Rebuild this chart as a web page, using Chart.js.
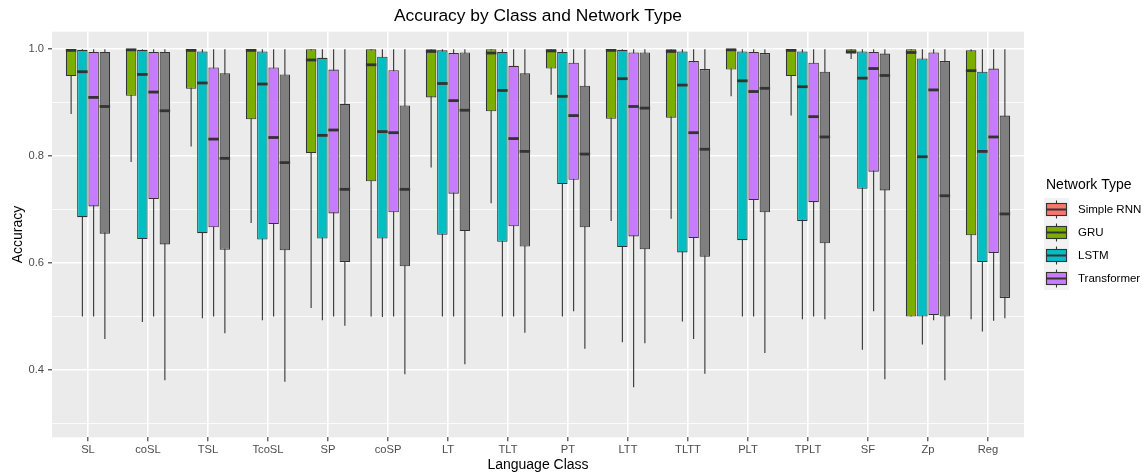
<!DOCTYPE html>
<html>
<head>
<meta charset="utf-8">
<script src="https://cdn.jsdelivr.net/npm/chart.js@4.4.1/dist/chart.umd.min.js"></script>
<style>
  body { margin: 0; background: #fff; }
  #wrap { width: 1144px; height: 474px; }
</style>
</head>
<body>
<div id="wrap"><canvas id="myChart"></canvas></div>
<script>
var categories = ["SL", "coSL", "TSL", "TcoSL", "SP", "coSP", "LT", "TLT", "PT", "LTT", "TLTT", "PLT", "TPLT", "SF", "Zp", "Reg"];
var legendNames = ["Simple RNN", "GRU", "LSTM", "Transformer"];
var legendColors = ["#F8766D", "#7CAE00", "#00BFC4", "#C77CFF"];
var yTicks = [0.3, 0.4, 0.5, 0.6, 0.7, 0.8, 0.9, 1.0];

// each row: [min, lower hinge, median, upper hinge, max]
var gru = [
  [0.879, 0.950, 0.998, 1.0, 1.0],
  [0.789, 0.913, 0.999, 1.0, 1.0],
  [0.818, 0.926, 0.998, 1.0, 1.0],
  [0.675, 0.869, 0.998, 1.0, 1.0],
  [0.516, 0.806, 0.980, 1.0, 1.0],
  [0.500, 0.753, 0.971, 1.0, 1.0],
  [0.779, 0.910, 0.996, 1.0, 1.0],
  [0.712, 0.884, 0.993, 1.0, 1.0],
  [0.915, 0.964, 0.997, 1.0, 1.0],
  [0.679, 0.870, 0.998, 1.0, 1.0],
  [0.683, 0.872, 0.996, 1.0, 1.0],
  [0.912, 0.962, 0.999, 1.0, 1.0],
  [0.876, 0.950, 0.998, 1.0, 1.0],
  [0.982, 0.992, 0.995, 1.0, 1.0],
  [0.500, 0.500, 0.994, 1.0, 1.0],
  [0.495, 0.652, 0.960, 0.998, 1.0]
];
var lstm = [
  [0.500, 0.686, 0.958, 0.999, 1.0],
  [0.490, 0.645, 0.953, 0.999, 1.0],
  [0.497, 0.656, 0.937, 0.996, 1.0],
  [0.493, 0.644, 0.935, 0.996, 1.0],
  [0.493, 0.646, 0.839, 0.984, 1.0],
  [0.499, 0.646, 0.846, 0.986, 1.0],
  [0.500, 0.653, 0.936, 0.998, 1.0],
  [0.500, 0.640, 0.923, 0.995, 1.0],
  [0.500, 0.748, 0.912, 0.995, 1.0],
  [0.452, 0.630, 0.945, 0.999, 1.0],
  [0.491, 0.620, 0.933, 0.996, 1.0],
  [0.500, 0.643, 0.941, 0.996, 1.0],
  [0.495, 0.679, 0.930, 0.996, 1.0],
  [0.438, 0.739, 0.946, 0.996, 1.0],
  [0.448, 0.500, 0.799, 0.983, 1.0],
  [0.472, 0.602, 0.809, 0.958, 1.0]
];
var transformer = [
  [0.500, 0.706, 0.910, 0.995, 1.0],
  [0.500, 0.720, 0.920, 0.995, 1.0],
  [0.500, 0.667, 0.832, 0.966, 1.0],
  [0.500, 0.673, 0.835, 0.966, 1.0],
  [0.500, 0.693, 0.849, 0.962, 1.0],
  [0.500, 0.695, 0.844, 0.961, 1.0],
  [0.500, 0.730, 0.904, 0.993, 1.0],
  [0.500, 0.669, 0.833, 0.969, 1.0],
  [0.510, 0.756, 0.876, 0.975, 1.0],
  [0.368, 0.650, 0.893, 0.994, 1.0],
  [0.458, 0.647, 0.844, 0.978, 1.0],
  [0.500, 0.718, 0.921, 0.995, 1.0],
  [0.500, 0.714, 0.874, 0.975, 1.0],
  [0.510, 0.771, 0.964, 0.995, 1.0],
  [0.493, 0.503, 0.924, 0.994, 1.0],
  [0.492, 0.619, 0.836, 0.964, 1.0]
];
// grey boxes (fill value not in the legend)
var other = [
  [0.458, 0.655, 0.893, 0.995, 1.0],
  [0.381, 0.635, 0.885, 0.995, 1.0],
  [0.469, 0.625, 0.796, 0.955, 1.0],
  [0.378, 0.624, 0.788, 0.953, 1.0],
  [0.483, 0.602, 0.738, 0.898, 1.0],
  [0.392, 0.594, 0.738, 0.895, 1.0],
  [0.411, 0.660, 0.886, 0.994, 1.0],
  [0.470, 0.631, 0.809, 0.955, 1.0],
  [0.440, 0.667, 0.804, 0.932, 1.0],
  [0.450, 0.626, 0.890, 0.994, 1.0],
  [0.393, 0.612, 0.813, 0.963, 1.0],
  [0.432, 0.695, 0.927, 0.993, 1.0],
  [0.495, 0.637, 0.836, 0.958, 1.0],
  [0.383, 0.736, 0.951, 0.992, 1.0],
  [0.381, 0.500, 0.726, 0.978, 1.0],
  [0.497, 0.535, 0.692, 0.876, 1.0]
];

var FONT = "'Liberation Sans', Arial, Helvetica, sans-serif";
var LINE = "#333333";

function makeBoxes(label, rows, color) {
  return {
    label: label,
    stats: rows,
    data: rows.map(function(r, i) { return { x: i + 1, y: [r[1], r[3]] }; }),
    backgroundColor: color,
    borderColor: LINE,
    borderWidth: 1.1,
    borderSkipped: false,
    categoryPercentage: 0.75,
    barPercentage: 0.93
  };
}

function isMajor(v) { return Math.round(v * 10) % 2 === 0; }

var boxPlugin = {
  id: 'boxes',
  beforeDraw: function(chart) {
    var a = chart.chartArea, c = chart.ctx;
    c.save();
    c.fillStyle = "#EBEBEB";
    c.fillRect(a.left, a.top, a.right - a.left, a.bottom - a.top);
    c.restore();
  },
  beforeDatasetsDraw: function(chart) {
    var c = chart.ctx, y = chart.scales.y;
    c.save();
    c.strokeStyle = LINE;
    c.lineWidth = 1.1;
    chart.data.datasets.forEach(function(ds, di) {
      chart.getDatasetMeta(di).data.forEach(function(bar, i) {
        var s = ds.stats[i];
        c.beginPath();
        c.moveTo(bar.x, y.getPixelForValue(s[0]));
        c.lineTo(bar.x, y.getPixelForValue(s[4]));
        c.stroke();
      });
    });
    c.restore();
  },
  afterDatasetsDraw: function(chart) {
    var c = chart.ctx, y = chart.scales.y;
    c.save();
    c.strokeStyle = LINE;
    c.lineWidth = 2.8;
    chart.data.datasets.forEach(function(ds, di) {
      chart.getDatasetMeta(di).data.forEach(function(bar, i) {
        var py = y.getPixelForValue(ds.stats[i][2]);
        c.beginPath();
        c.moveTo(bar.x - bar.width / 2, py);
        c.lineTo(bar.x + bar.width / 2, py);
        c.stroke();
      });
    });
    c.restore();
  },
  afterDraw: function(chart) {
    var a = chart.chartArea, c = chart.ctx;
    c.save();
    // title
    c.fillStyle = "#000";
    c.font = "17.4px " + FONT;
    c.textAlign = "center";
    c.textBaseline = "middle";
    c.fillText("Accuracy by Class and Network Type", (a.left + a.right) / 2, 16);
    // legend
    c.textAlign = "left";
    c.font = "14px " + FONT;
    c.fillText("Network Type", 1046, 185);
    c.font = "11.5px " + FONT;
    var kx = 1044, ky = 198, kw = 25, kh = 23;
    legendNames.forEach(function(name, i) {
      var top = ky + i * kh, cy = top + kh / 2;
      c.fillStyle = "#F2F2F2";
      c.fillRect(kx, top, kw, kh);
      c.strokeStyle = LINE;
      c.lineWidth = 1.1;
      c.beginPath();
      c.moveTo(kx + kw / 2, top + 2.5);
      c.lineTo(kx + kw / 2, top + kh - 2.5);
      c.stroke();
      c.fillStyle = legendColors[i];
      c.fillRect(kx + 2.5, cy - 6, kw - 5, 12);
      c.strokeRect(kx + 2.5, cy - 6, kw - 5, 12);
      c.lineWidth = 2;
      c.beginPath();
      c.moveTo(kx + 2.5, cy);
      c.lineTo(kx + kw - 2.5, cy);
      c.stroke();
      c.fillStyle = "#000";
      c.fillText(name, 1078, cy);
    });
    c.restore();
  }
};

var ctx = document.getElementById("myChart").getContext("2d");
var myChart = new Chart(ctx, {
  type: 'bar',
  data: {
    datasets: [
      makeBoxes("GRU", gru, "#7CAE00"),
      makeBoxes("LSTM", lstm, "#00BFC4"),
      makeBoxes("Transformer", transformer, "#C77CFF"),
      makeBoxes("NA", other, "#7F7F7F")
    ]
  },
  options: {
    responsive: true,
    maintainAspectRatio: false,
    animation: false,
    layout: { padding: { top: 31.7, right: 120, bottom: 0, left: 0 } },
    plugins: {
      legend: { display: false },
      tooltip: { enabled: false }
    },
    scales: {
      x: {
        type: 'linear',
        min: 0.4,
        max: 16.6,
        offset: false,
        afterBuildTicks: function(s) {
          s.ticks = categories.map(function(c, i) { return { value: i + 1 }; });
        },
        afterFit: function(s) { s.height = 36.7; },
        ticks: {
          callback: function(v) { return categories[Math.round(v) - 1]; },
          color: "#4D4D4D",
          font: { family: FONT, size: 11.2 },
          autoSkip: false,
          maxRotation: 0,
          padding: 2
        },
        grid: { offset: false, color: "#FFFFFF", lineWidth: 1.6, tickColor: LINE, tickLength: 4, tickWidth: 1.1 },
        border: { display: false },
        title: { display: true, text: "Language Class", color: "#000", font: { family: FONT, size: 14 }, padding: { top: 0, bottom: 0 } }
      },
      y: {
        min: 0.2742,
        max: 1.0329,
        afterBuildTicks: function(s) {
          s.ticks = yTicks.map(function(v) { return { value: v }; });
        },
        afterFit: function(s) { s.width = 52; },
        ticks: {
          callback: function(v) { return isMajor(v) ? v.toFixed(1) : ""; },
          color: "#4D4D4D",
          font: { family: FONT, size: 11.2 },
          padding: 4
        },
        grid: {
          color: "#FFFFFF",
          lineWidth: function(c) { return c.tick && isMajor(c.tick.value) ? 1.6 : 0.8; },
          tickColor: function(c) { return c.tick && isMajor(c.tick.value) ? LINE : "rgba(0,0,0,0)"; },
          tickLength: 4,
          tickWidth: 1.1
        },
        border: { display: false },
        title: { display: true, text: "Accuracy", color: "#000", font: { family: FONT, size: 14 }, padding: { top: 10, bottom: 0 } }
      }
    }
  },
  plugins: [boxPlugin]
});
</script>
</body>
</html>
